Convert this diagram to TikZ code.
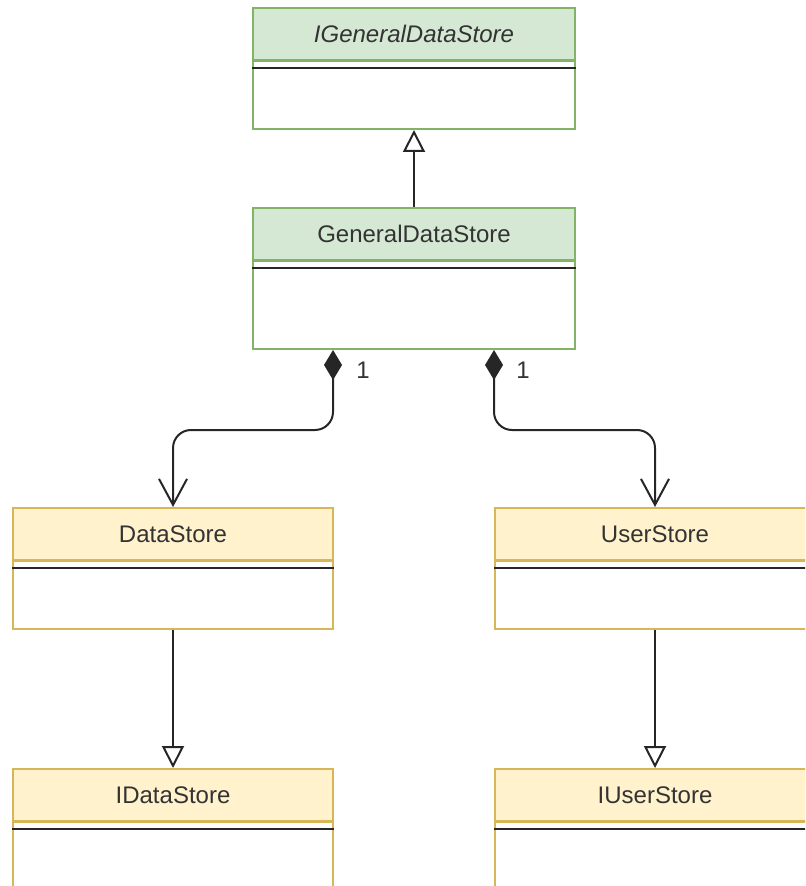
\documentclass[tikz,border=0pt]{standalone}
\usepackage{fontspec}
\setmainfont{Liberation Sans}
\usetikzlibrary{arrows.meta, positioning}
\definecolor{gfill}{HTML}{D5E8D4}
\definecolor{gline}{HTML}{82B366}
\definecolor{yfill}{HTML}{FFF2CC}
\definecolor{yline}{HTML}{D6B656}
\definecolor{txt}{HTML}{333333}

\begin{document}
\begin{tikzpicture}[
        x=0.5pt, y=-0.5pt,
        every node/.style={font=\fontsize{12}{14}\selectfont, text=txt},
        head/.style={rectangle, line width=1pt, minimum width=161pt, minimum height=26pt, inner sep=0pt},
        ghead/.style={head, draw=gline, fill=gfill},
        yhead/.style={head, minimum width=160pt, draw=yline, fill=yfill},
        gbody/.style={head, draw=gline, fill=white, minimum height=34pt, below=-0.5pt of #1},
        ybody/.style={head, minimum width=160pt, draw=yline, fill=white, minimum height=34pt, below=-0.5pt of #1},
        sep/.style={line width=1pt, black!85},
        inherit/.style={-{Triangle[open, length=11pt, width=11pt]}, line width=1pt, black!85},
        comp/.style={{Diamond[length=15pt, width=9pt]}-{Straight Barb[length=13pt, width=14pt]}, line width=1pt, black!85, rounded corners=9pt}
    ]
    \clip (0,0) rectangle (805,886);

    % classes
    \node[ghead] (igds) at (414,34) {\textit{IGeneralDataStore}};
    \node[gbody=igds] (igdsB) {};
    \node[ghead] (gds) at (414,234) {GeneralDataStore};
    \node[gbody=gds, minimum height=44pt] (gdsB) {};
    \node[yhead] (ds) at (173,534) {DataStore};
    \node[ybody=ds] (dsB) {};
    \node[yhead] (us) at (655,534) {UserStore};
    \node[ybody=us] (usB) {};
    \node[yhead] (ids) at (173,795) {IDataStore};
    \node[ybody=ids] (idsB) {};
    \node[yhead] (ius) at (655,795) {IUserStore};
    \node[ybody=ius] (iusB) {};

    \foreach \c in {igdsB, gdsB, dsB, usB, idsB, iusB}
        \draw[sep] ([yshift=-4pt]\c.north west) -- ([yshift=-4pt]\c.north east);

    % relations
    \draw[inherit] (gds.north) -- (igdsB.south);
    \draw[comp] ([xshift=-40.5pt]gdsB.south) -- ++(0,80) -| (ds.north);
    \draw[comp] ([xshift=40pt]gdsB.south) -- ++(0,80) -| (us.north);
    \draw[inherit] (dsB.south) -- (ids.north);
    \draw[inherit] (usB.south) -- (ius.north);

    \node (m1) at (363,370) {1};
    \node (m2) at (523,370) {1};
\end{tikzpicture}
\end{document}
